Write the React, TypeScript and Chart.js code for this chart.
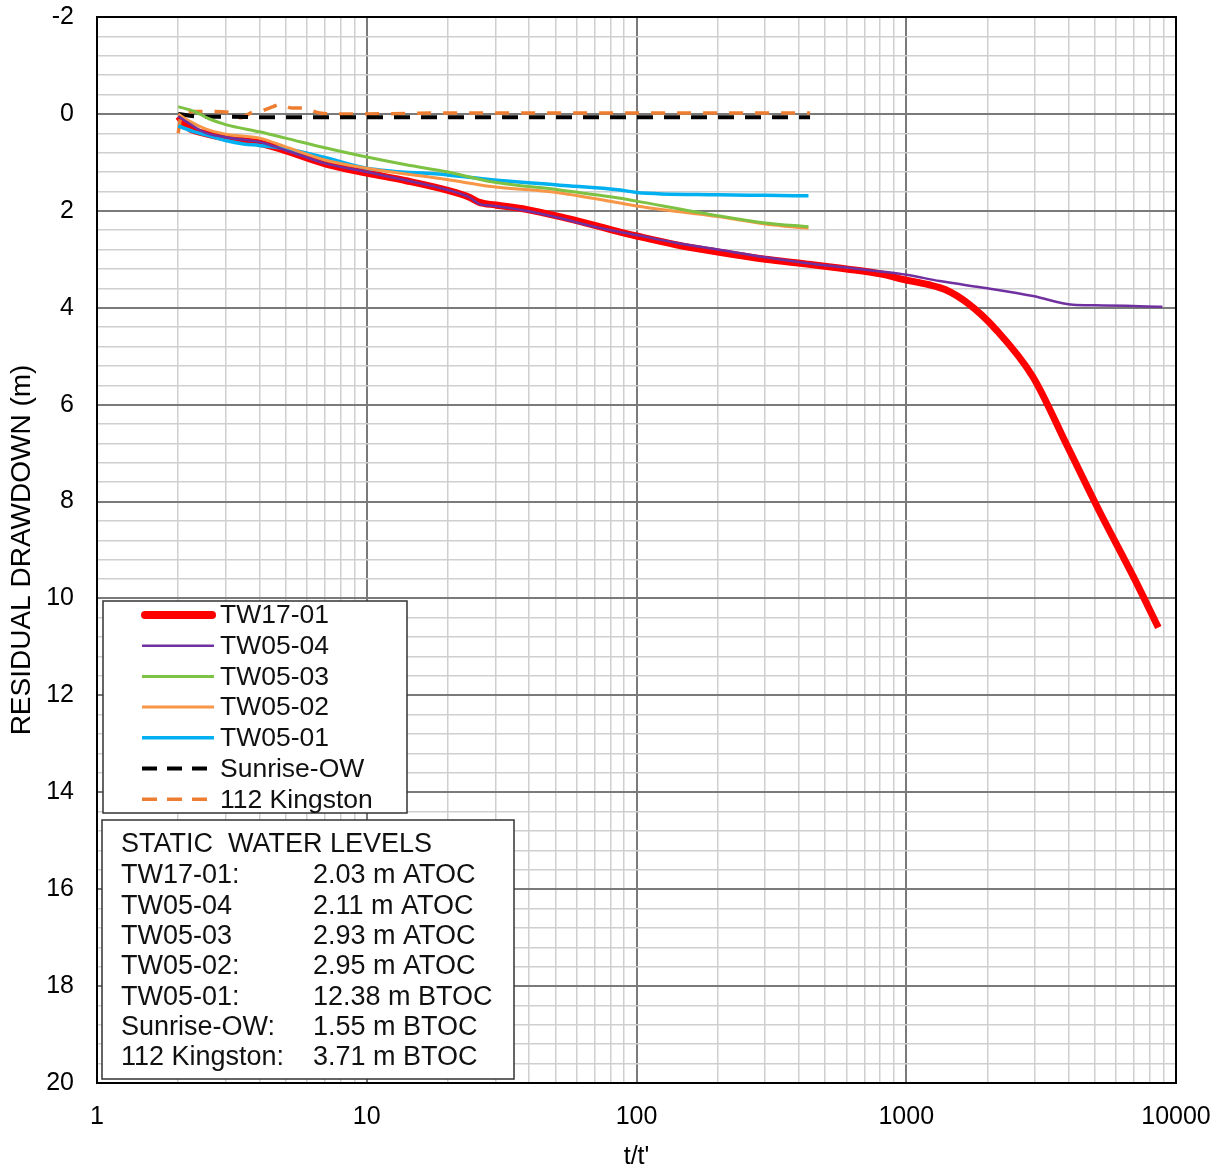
import { useEffect, useRef } from "react";
import { Chart, registerables } from "chart.js";

Chart.register(...registerables);

// Residual drawdown recovery data: t/t' values and residual drawdown (m)
const TW17_01_T = [2, 2.2, 2.5, 3, 4, 5, 7, 10, 14, 20, 24, 26, 30, 39, 52, 70, 87, 100, 140, 200, 300, 430, 600, 800, 1000, 1200, 1400, 1700, 2150, 2950, 3950, 5200, 6950, 8600];
const TW17_01_D = [0.05, 0.3, 0.4, 0.5, 0.6, 0.76, 1.03, 1.22, 1.38, 1.58, 1.72, 1.82, 1.88, 1.97, 2.12, 2.3, 2.44, 2.52, 2.7, 2.85, 3.0, 3.1, 3.2, 3.3, 3.43, 3.52, 3.63, 3.92, 4.45, 5.43, 6.85, 8.2, 9.55, 10.6];

const TW05_04_T = [2, 2.5, 3, 4, 5, 7, 10, 14, 20, 24, 26, 30, 39, 52, 70, 100, 140, 200, 300, 430, 600, 800, 1000, 1330, 2000, 2950, 4150, 5000, 8900];
const TW05_04_D = [0.05, 0.38, 0.48, 0.58, 0.75, 1.02, 1.2, 1.37, 1.57, 1.72, 1.85, 1.9, 2.0, 2.15, 2.33, 2.5, 2.66, 2.8, 2.96, 3.08, 3.17, 3.25, 3.32, 3.45, 3.6, 3.76, 3.94, 3.95, 3.98];

const TW05_03_T = [2, 2.3, 2.6, 3, 4, 5, 7, 9.4, 14, 20, 29, 52, 87, 100, 200, 300, 434];
const TW05_03_D = [-0.15, -0.05, 0.1, 0.22, 0.37, 0.5, 0.7, 0.86, 1.05, 1.2, 1.4, 1.57, 1.74, 1.8, 2.1, 2.25, 2.33];

const TW05_02_T = [2, 2.2, 2.5, 3, 4, 5, 7, 10, 20, 29, 52, 87, 100, 200, 300, 434];
const TW05_02_D = [0.0, 0.15, 0.3, 0.42, 0.5, 0.68, 0.95, 1.12, 1.36, 1.5, 1.63, 1.84, 1.9, 2.12, 2.27, 2.36];

const TW05_01_T = [2, 2.3, 2.6, 3, 3.5, 4, 5, 7, 10, 20, 29, 52, 87, 100, 200, 300, 434];
const TW05_01_D = [0.25, 0.37, 0.45, 0.55, 0.62, 0.65, 0.72, 0.9, 1.12, 1.26, 1.36, 1.47, 1.57, 1.62, 1.67, 1.68, 1.69];

const SUNRISE_T = [2, 2.3, 3, 5, 10, 20, 50, 100, 200, 440];
const SUNRISE_D = [0.0, 0.05, 0.06, 0.07, 0.07, 0.07, 0.07, 0.07, 0.07, 0.07];

const KINGSTON_T = [2, 2.05, 2.3, 2.6, 3.1, 3.4, 3.75, 4.0, 4.5, 4.75, 5.3, 5.8, 6.7, 8, 10, 20, 50, 100, 200, 440];
const KINGSTON_D = [0.4, 0.05, -0.05, -0.05, -0.03, 0.08, -0.03, -0.05, -0.15, -0.2, -0.12, -0.12, -0.02, 0.0, 0.0, -0.02, -0.02, -0.02, -0.02, -0.02];

const SERIES_NAMES = ["TW17-01", "TW05-04", "TW05-03", "TW05-02", "TW05-01", "Sunrise-OW", "112 Kingston"];

const X_TICK_LABELS = ["1", "10", "100", "1000", "10000"];
const Y_TICK_LABELS = [-2, 0, 2, 4, 6, 8, 10, 12, 14, 16, 18, 20];

const STATIC_TITLE = "STATIC  WATER LEVELS";
const STATIC_WELLS = ["TW17-01:", "TW05-04", "TW05-03", "TW05-02:", "TW05-01:", "Sunrise-OW:", "112 Kingston:"];
const STATIC_LEVELS = ["2.03 m ATOC", "2.11 m ATOC", "2.93 m ATOC", "2.95 m ATOC", "12.38 m BTOC", "1.55 m BTOC", "3.71 m BTOC"];

const FONT = '"Liberation Sans", Arial, Helvetica, sans-serif';

type Style = { color: string; width: number; dash: number[] };
const STYLES: Style[] = [
  { color: "#FF0000", width: 7, dash: [] },
  { color: "#7030A0", width: 2.5, dash: [] },
  { color: "#7DC242", width: 3, dash: [] },
  { color: "#F79646", width: 3, dash: [] },
  { color: "#00B0F0", width: 3.5, dash: [] },
  { color: "#000000", width: 4, dash: [16, 11] },
  { color: "#ED7D31", width: 3.5, dash: [14, 12] },
];

const SERIES_T = [TW17_01_T, TW05_04_T, TW05_03_T, TW05_02_T, TW05_01_T, SUNRISE_T, KINGSTON_T];
const SERIES_D = [TW17_01_D, TW05_04_D, TW05_03_D, TW05_02_D, TW05_01_D, SUNRISE_D, KINGSTON_D];

const isDecade = (v: number) => {
  const l = Math.log10(v);
  return Math.abs(l - Math.round(l)) < 1e-9;
};
const isEvenInt = (v: number) => Math.abs(v - Math.round(v)) < 1e-6 && Math.round(v) % 2 === 0;

// Outer black frame around the plotting area
const framePlugin = {
  id: "frame",
  beforeDatasetsDraw(chart: any) {
    const { ctx, chartArea: a } = chart;
    ctx.save();
    ctx.strokeStyle = "#000";
    ctx.lineWidth = 2;
    ctx.strokeRect(a.left, a.top, a.right - a.left, a.bottom - a.top);
    ctx.restore();
  },
};

// Series legend box and static water level box inside the plot
const boxesPlugin = {
  id: "boxes",
  afterDraw(chart: any) {
    const { ctx } = chart;
    ctx.save();
    // legend box
    ctx.fillStyle = "#fff";
    ctx.fillRect(103, 601, 304, 212);
    ctx.strokeStyle = "#333";
    ctx.lineWidth = 1.5;
    ctx.strokeRect(103, 601, 304, 212);
    ctx.font = `26.5px ${FONT}`;
    ctx.textBaseline = "middle";
    ctx.textAlign = "left";
    SERIES_NAMES.forEach((name, i) => {
      const y = 615 + i * 30.7;
      const s = STYLES[i];
      ctx.beginPath();
      ctx.strokeStyle = s.color;
      ctx.lineWidth = i === 0 ? 8 : s.width;
      ctx.lineCap = i === 0 ? "round" : "butt";
      ctx.setLineDash(s.dash.length ? [15, 10] : []);
      ctx.moveTo(i === 0 ? 145 : 142, y);
      ctx.lineTo(i === 0 ? 212 : 214, y);
      ctx.stroke();
      ctx.setLineDash([]);
      ctx.fillStyle = "#111";
      ctx.fillText(name, 220, y + 1);
    });
    // static water levels box
    ctx.fillStyle = "#fff";
    ctx.fillRect(102, 820, 412, 259);
    ctx.strokeStyle = "#333";
    ctx.lineWidth = 1.5;
    ctx.strokeRect(102, 820, 412, 259);
    ctx.fillStyle = "#111";
    ctx.font = `27px ${FONT}`;
    ctx.fillText(STATIC_TITLE, 121, 845);
    STATIC_WELLS.forEach((w, i) => {
      const y = 876 + i * 30.3;
      ctx.fillText(w, 121, y);
      ctx.fillText(STATIC_LEVELS[i], 313, y);
    });
    ctx.restore();
  },
};

export default function App() {
  const canvasRef = useRef<HTMLCanvasElement | null>(null);

  useEffect(() => {
    if (!canvasRef.current) return;
    const datasets = SERIES_NAMES.map((name, i) => ({
      label: name,
      data: SERIES_T[i].map((t, k) => ({ x: t, y: SERIES_D[i][k] })),
      borderColor: STYLES[i].color,
      backgroundColor: STYLES[i].color,
      borderWidth: STYLES[i].width,
      borderDash: STYLES[i].dash,
      pointRadius: 0,
      fill: false,
      cubicInterpolationMode: "monotone" as const,
      order: i === 0 ? 10 : i,
      borderCapStyle: "butt" as const,
    }));

    const chart = new Chart(canvasRef.current, {
      type: "line",
      data: { datasets },
      options: {
        animation: false,
        responsive: false,
        events: [],
        layout: { padding: { left: 0, top: 17, right: 47, bottom: 0 } },
        plugins: { legend: { display: false }, tooltip: { enabled: false } },
        scales: {
          x: {
            type: "logarithmic",
            min: 1,
            max: 10000,
            afterBuildTicks: (scale: any) => {
              const ticks: { value: number }[] = [];
              for (let e = 0; e < 4; e++) {
                for (let m = 1; m < 10; m++) ticks.push({ value: m * Math.pow(10, e) });
              }
              ticks.push({ value: 10000 });
              scale.ticks = ticks;
            },
            afterFit: (scale: any) => {
              scale.height = 84;
              scale.paddingLeft = 0;
              scale.paddingRight = 0;
            },
            ticks: {
              autoSkip: false,
              maxRotation: 0,
              padding: 19,
              color: "#000",
              font: { size: 25, family: FONT },
              callback: (v: any) => {
                const s = String(Math.round(Number(v)));
                return isDecade(Number(v)) && X_TICK_LABELS.includes(s) ? s : "";
              },
            },
            grid: {
              drawTicks: false,
              color: (c: any) => (c.tick && isDecade(c.tick.value) ? "#7a7a7a" : "#cfcfcf"),
              lineWidth: (c: any) => (c.tick && isDecade(c.tick.value) ? 2 : 1.5),
            },
            border: { display: true, color: "#000", width: 2 },
            title: {
              display: true,
              text: "t/t'",
              color: "#000",
              font: { size: 25, family: FONT, lineHeight: 0.8 },
              padding: { top: 0, bottom: 0 },
            },
          },
          y: {
            type: "linear",
            min: -2,
            max: 20,
            reverse: true,
            afterBuildTicks: (scale: any) => {
              const ticks: { value: number }[] = [];
              for (let k = 0; k <= 55; k++) ticks.push({ value: Math.round((-2 + k * 0.4) * 10) / 10 });
              scale.ticks = ticks;
            },
            afterFit: (scale: any) => {
              scale.width = 97;
              scale.paddingTop = 0;
              scale.paddingBottom = 0;
            },
            ticks: {
              autoSkip: false,
              padding: 23,
              color: "#000",
              font: { size: 25, family: FONT },
              callback: (v: any) => {
                const n = Number(v);
                return isEvenInt(n) && Y_TICK_LABELS.includes(Math.round(n)) ? String(Math.round(n)) : "";
              },
            },
            grid: {
              drawTicks: false,
              color: (c: any) => (c.tick && isEvenInt(c.tick.value) ? "#7a7a7a" : "#cfcfcf"),
              lineWidth: (c: any) => (c.tick && isEvenInt(c.tick.value) ? 2 : 1.5),
            },
            border: { display: true, color: "#000", width: 2 },
            title: {
              display: true,
              text: "RESIDUAL DRAWDOWN (m)",
              color: "#000",
              font: { size: 28, family: FONT, lineHeight: 1 },
              padding: { top: 8, bottom: 0 },
            },
          },
        },
      },
      plugins: [framePlugin, boxesPlugin],
    });
    return () => chart.destroy();
  }, []);

  return (
    <div style={{ position: "fixed", left: 0, top: 0, width: 1223, height: 1167, background: "#fff" }}>
      <canvas ref={canvasRef} width={1223} height={1167} style={{ display: "block" }} />
    </div>
  );
}
